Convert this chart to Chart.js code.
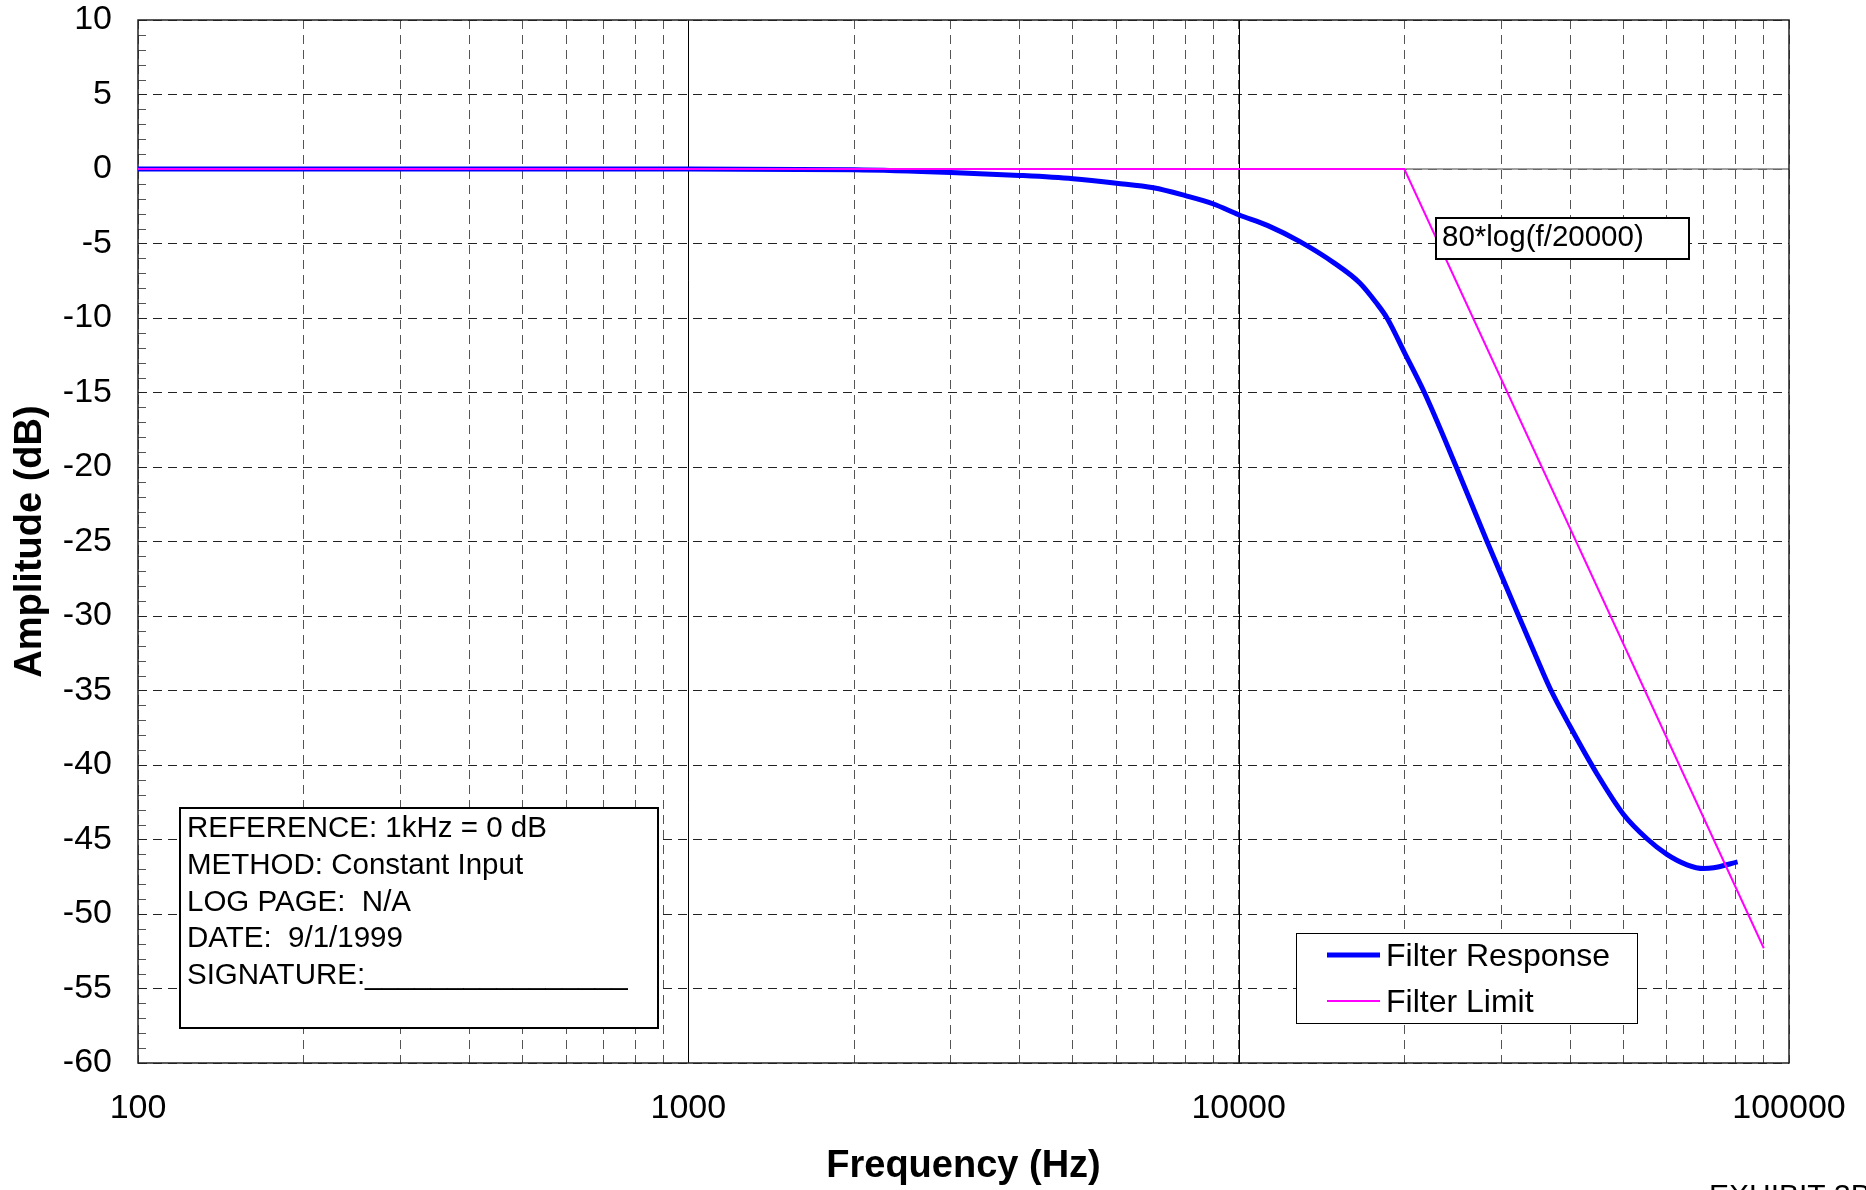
<!DOCTYPE html>
<html>
<head>
<meta charset="utf-8">
<script src="https://cdn.jsdelivr.net/npm/chart.js@4.4.1/dist/chart.umd.min.js"></script>
<style>
  html, body { margin: 0; padding: 0; background: #fff; overflow: hidden; }
  #wrap { width: 1866px; height: 1190px; }
</style>
</head>
<body>
<div id="wrap"><canvas id="filterChart" width="1866" height="1190"></canvas></div>
<script>
// measured filter response (Hz, dB)
const responseHz = [100, 200, 500, 1000, 2000, 3000, 4000, 5000, 6000, 7000, 8000, 9000, 10000,
    11300, 12900, 14900, 16600, 17800, 18600, 20000, 21750, 24860, 28270, 32270,
    34500, 36840, 40000, 44790, 50000, 55210, 60000, 65270, 70000, 72950, 80650];
const responseDb = [0, 0, 0, 0, -0.05, -0.23, -0.43, -0.65, -0.95, -1.26, -1.79, -2.35, -3.07,
    -3.8, -4.86, -6.3, -7.65, -9.0, -10.0, -12.3, -15.0, -20.0, -25.0, -30.0,
    -32.5, -34.9, -37.4, -40.6, -43.3, -44.95, -46.0, -46.7, -46.95, -46.9, -46.5];

// limit line: flat to 20 kHz, then 80*log(f/20000)
const limitHz = [100, 20000, 90000];
const limitDb = [0, 0, -52.3];

const xTickLabels = ['100', '1000', '10000', '100000'];
const yMin = -60;
const yMax = 10;
const yStep = 5;

const infoLines = ['REFERENCE: 1kHz = 0 dB', 'METHOD: Constant Input', 'LOG PAGE:  N/A',
    'DATE:  9/1/1999', 'SIGNATURE:________________'];
const limitNote = '80*log(f/20000)';
const exhibitText = 'EXHIBIT 3B';

const FONT = "'Liberation Sans', Arial, Helvetica, sans-serif";

// grid positions on the log axis: 1..9 times each decade
const xGridValues = [];
for (let d = 100; d <= 10000; d *= 10) {
    for (let m = 1; m < 10; m++) xGridValues.push(m * d);
}
xGridValues.push(100000);

function line(ctx, x1, y1, x2, y2) {
    ctx.beginPath();
    ctx.moveTo(x1, y1);
    ctx.lineTo(x2, y2);
    ctx.stroke();
}

const decorPlugin = {
    id: 'decor',
    beforeDatasetsDraw(chart) {
        const { ctx, chartArea: a, scales: { x, y } } = chart;
        ctx.save();
        // solid decade lines
        ctx.strokeStyle = '#000';
        ctx.lineWidth = 1;
        [1000, 10000].forEach(f => {
            const px = Math.round(x.getPixelForValue(f)) + 0.5;
            line(ctx, px, a.top, px, a.bottom);
        });
        // 0 dB reference line
        ctx.strokeStyle = '#808080';
        ctx.lineWidth = 1.5;
        const y0 = y.getPixelForValue(0);
        line(ctx, a.left, y0, a.right, y0);
        // minor ticks every 1 dB
        ctx.strokeStyle = '#555';
        ctx.lineWidth = 1;
        for (let v = yMin; v <= yMax; v++) {
            if (v % yStep === 0) continue;
            const py = Math.round(y.getPixelForValue(v)) + 0.5;
            line(ctx, a.left, py, a.left + 8, py);
        }
        // plot frame
        ctx.strokeStyle = '#222';
        ctx.lineWidth = 1.5;
        ctx.strokeRect(a.left, a.top, a.right - a.left, a.bottom - a.top);
        ctx.restore();
    },
    afterDraw(chart) {
        const { ctx } = chart;
        ctx.save();

        // info box
        ctx.fillStyle = '#fff';
        ctx.fillRect(180, 808, 478, 220);
        ctx.strokeStyle = '#000';
        ctx.lineWidth = 2;
        ctx.strokeRect(180, 808, 478, 220);
        ctx.fillStyle = '#000';
        ctx.font = '29.5px ' + FONT;
        ctx.textAlign = 'left';
        ctx.textBaseline = 'alphabetic';
        infoLines.forEach((t, i) => ctx.fillText(t, 187, 837 + i * 36.8));

        // limit formula label
        ctx.fillStyle = '#fff';
        ctx.fillRect(1436, 218, 253, 41);
        ctx.strokeRect(1436, 218, 253, 41);
        ctx.fillStyle = '#000';
        ctx.fillText(limitNote, 1442, 246);

        // legend
        ctx.fillStyle = '#fff';
        ctx.fillRect(1296.5, 933.5, 341, 90);
        ctx.strokeStyle = '#000';
        ctx.lineWidth = 1;
        ctx.strokeRect(1296.5, 933.5, 341, 90);
        ctx.font = '32px ' + FONT;
        chart.data.datasets.forEach((ds, i) => {
            const ly = 955 + i * 46;
            ctx.strokeStyle = ds.borderColor;
            ctx.lineWidth = ds.borderWidth;
            line(ctx, 1327, ly, 1380, ly);
            ctx.fillStyle = '#000';
            ctx.fillText(ds.label, 1386, ly + 11);
        });

        // exhibit tag, runs off the bottom edge
        ctx.font = '30px ' + FONT;
        ctx.textBaseline = 'top';
        ctx.fillText(exhibitText, 1709, 1182);
        ctx.restore();
    }
};

const chartCtx = document.getElementById('filterChart').getContext('2d');
Chart.defaults.font.family = FONT;
Chart.defaults.color = '#000';

new Chart(chartCtx, {
    type: 'line',
    data: {
        datasets: [{
            label: 'Filter Response',
            data: responseHz.map((f, i) => ({ x: f, y: responseDb[i] })),
            borderColor: '#0000FF',
            borderWidth: 5,
            pointRadius: 0,
            cubicInterpolationMode: 'monotone',
            order: 1
        }, {
            label: 'Filter Limit',
            data: limitHz.map((f, i) => ({ x: f, y: limitDb[i] })),
            borderColor: '#FF00FF',
            borderWidth: 2,
            pointRadius: 0,
            tension: 0,
            order: 0
        }]
    },
    options: {
        responsive: false,
        animation: false,
        devicePixelRatio: 1,
        layout: { padding: { top: 20, right: 77, bottom: 0, left: 0 } },
        plugins: {
            legend: { display: false },
            tooltip: { enabled: false }
        },
        scales: {
            x: {
                type: 'logarithmic',
                position: 'bottom',
                min: 100,
                max: 100000,
                afterBuildTicks: scale => {
                    scale.ticks = xGridValues.map(v => ({ value: v }));
                },
                afterFit: scale => {
                    scale.height = 127;
                    scale.paddingLeft = 0;
                    scale.paddingRight = 0;
                },
                ticks: {
                    autoSkip: false,
                    maxRotation: 0,
                    padding: 25,
                    font: { size: 34 },
                    callback: v => xTickLabels.includes(String(v)) ? String(v) : ''
                },
                grid: { color: '#555', lineWidth: 1, drawTicks: false },
                border: { display: false, dash: [9, 6] },
                title: {
                    display: true,
                    text: 'Frequency (Hz)',
                    font: { size: 38, weight: 'bold' },
                    padding: { top: 0, bottom: 1 }
                }
            },
            y: {
                type: 'linear',
                min: yMin,
                max: yMax,
                afterFit: scale => {
                    scale.width = 138;
                    scale.paddingTop = 0;
                    scale.paddingBottom = 0;
                },
                ticks: {
                    stepSize: yStep,
                    padding: 26,
                    font: { size: 34 },
                    callback: v => String(v)
                },
                grid: { color: '#222', lineWidth: 1, drawTicks: false },
                border: { display: false, dash: [9, 6] },
                title: {
                    display: true,
                    text: 'Amplitude (dB)',
                    font: { size: 38, weight: 'bold' },
                    padding: { top: 8, bottom: 0 }
                }
            }
        }
    },
    plugins: [decorPlugin]
});
</script>
</body>
</html>
